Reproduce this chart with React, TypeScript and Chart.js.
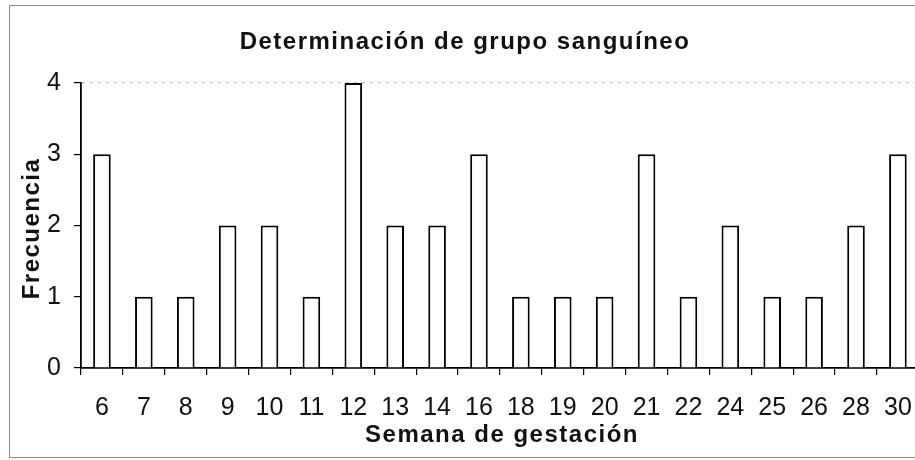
import React, { useEffect, useRef } from "react";
import { Chart, registerables } from "chart.js";

Chart.register(...registerables);

const categories = ["6", "7", "8", "9", "10", "11", "12", "13", "14", "16", "18", "19", "20", "21", "22", "24", "25", "26", "28", "30"];
const frecuencia = [3, 1, 1, 2, 2, 1, 4, 2, 2, 3, 1, 1, 1, 3, 1, 2, 1, 1, 2, 3];
const yTicks = [0, 1, 2, 3, 4];
const title = "Determinación de grupo sanguíneo";
const xTitle = "Semana de gestación";
const yTitle = "Frecuencia";

const FONT = "'Liberation Sans', Arial, sans-serif";

const decor = {
  id: "decor",
  beforeDraw(chart: any) {
    const ctx = chart.ctx;
    ctx.save();
    ctx.fillStyle = "#ffffff";
    ctx.fillRect(0, 0, chart.width, chart.height);
    ctx.strokeStyle = "#8a8a8a";
    ctx.lineWidth = 1;
    ctx.strokeRect(9.5, 5.5, 1000, 452);
    ctx.restore();
  },
  afterDraw(chart: any) {
    const ctx = chart.ctx;
    const area = chart.chartArea;
    ctx.save();
    ctx.fillStyle = "#111111";
    ctx.textAlign = "center";
    ctx.textBaseline = "middle";
    ctx.font = `bold 24px ${FONT}`;
    (ctx as any).letterSpacing = "1.5px";
    ctx.fillText(title, 465, 42);
    ctx.fillText(xTitle, 502, 435);
    ctx.translate(32, (area.top + area.bottom) / 2 + 3);
    ctx.rotate(-Math.PI / 2);
    ctx.fillText(yTitle, 0, 0);
    ctx.restore();
  },
};

export default function App() {
  const ref = useRef<HTMLCanvasElement>(null);
  useEffect(() => {
    if (!ref.current) return;
    const chart = new Chart(ref.current, {
      type: "bar",
      data: {
        labels: categories,
        datasets: [
          {
            data: frecuencia,
            backgroundColor: "#ffffff",
            borderColor: "#000000",
            borderWidth: 2,
            categoryPercentage: 1,
            barPercentage: 0.42,
          },
        ],
      },
      options: {
        responsive: false,
        animation: false,
        devicePixelRatio: 1,
        layout: { padding: { top: 83, right: 8, left: 0, bottom: 0 } },
        plugins: { legend: { display: false }, tooltip: { enabled: false }, title: { display: false } },
        scales: {
          x: {
            offset: true,
            grid: {
              offset: true,
              drawOnChartArea: false,
              color: "#000000",
              tickColor: "#000000",
              tickLength: 7,
              lineWidth: 1.2,
            },
            border: { color: "#000000", width: 1.8 },
            ticks: {
              color: "#111111",
              font: { family: FONT, size: 25 },
              padding: 18,
              maxRotation: 0,
              autoSkip: false,
            },
            afterFit(scale: any) {
              scale.height = 92;
            },
          },
          y: {
            min: 0,
            max: 4,
            afterBuildTicks(scale: any) {
              scale.ticks = yTicks.map((v) => ({ value: v }));
            },
            grid: {
              color: (c: any) => (c.tick && c.tick.value === 4 ? "#bdbdbd" : "rgba(0,0,0,0)"),
              tickColor: "#000000",
              tickLength: 7,
              lineWidth: 1.2,
            },
            border: { color: "#000000", width: 1.8, dash: [3, 5] },
            ticks: {
              color: "#111111",
              font: { family: FONT, size: 25 },
              padding: 13,
            },
            afterFit(scale: any) {
              scale.width = 81;
            },
          },
        },
      },
      plugins: [decor],
    });
    return () => chart.destroy();
  }, []);
  return (
    <div style={{ position: "absolute", left: 0, top: 0, width: 915, height: 460, overflow: "hidden" }}>
      <canvas ref={ref} width={930} height={460} style={{ width: 930, height: 460, display: "block" }} />
    </div>
  );
}
